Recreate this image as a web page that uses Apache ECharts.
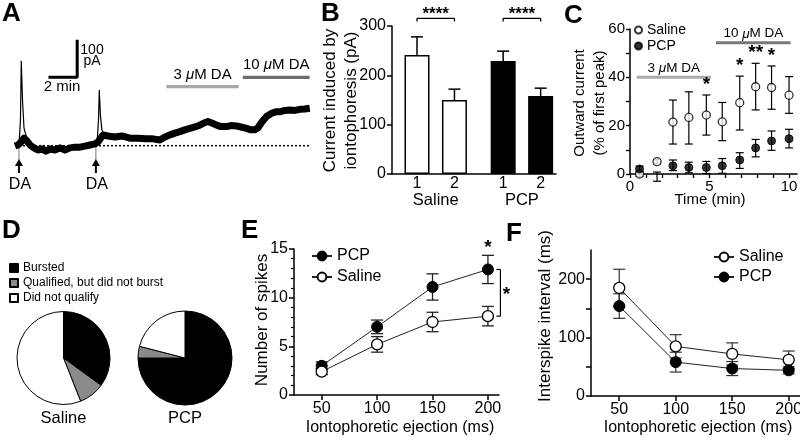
<!DOCTYPE html>
<html><head><meta charset="utf-8">
<script src="https://cdn.jsdelivr.net/npm/echarts@6/dist/echarts.min.js"></script>
<style>html,body{margin:0;padding:0;background:#fff}#c{width:800px;height:437px}</style>
</head><body><div id="c"></div>
<script>
// ---------- Panel A: example whole-cell trace ----------
const traceTime = [0,0.22,0.44,0.66,0.88,1.1,1.39,1.68,1.98,2.27,2.56,2.93,3.3,3.66,4.03,4.4,4.76,5.13,5.49,5.86,6.08,6.45,6.81,7.33,7.84,8.42,9.01,9.6,10.11,10.62,10.99,11.36,11.72,12.09,12.45,12.82,13.19,13.55,13.85,14.14,14.43,14.78,15.09,15.51,15.82,16.24,16.56,16.98,17.29,17.58,17.8,18.1,18.44,18.8,19.12,19.41,19.78,20.15,20.51,20.88,21.25,21.61];
const traceCurrent = [-1,2,10,21,13,2,-6,-12,-9,-15,-9,-12,-6,-12,-6,-4,-4,-1,2,5,10,30,27,24,27,21,21,19,19,16,24,30,35,39,44,48,52,57,63,67,63,57,53,53,56,55,52,48,44,44,49,66,81,90,94,94,98,99,98,101,102,104];
const spike1Time = [0.29,0.4,0.46,0.55,0.66,0.88];
const spike1Current = [-1,71,236,127,49,19];
const spike2Time = [6.0,6.12,6.18,6.26,6.37,6.52];
const spike2Current = [-1,71,155,85,44,30];
const daPuffTime = [0.29, 5.93];
const bath3uMTime = [11.1, 16.4];
const bath10uMTime = [16.7, 21.6];

// ---------- Panel B ----------
const bConditions = ['Saline', 'PCP'];
const bPuffLabels = ['1', '2', '1', '2'];
const bMeans = [241, 150, 229, 158];
const bSemTop = [278, 172, 249, 174];
const bSig = ['****', '****'];

// ---------- Panel C ----------
const cTime = [0.6,1.7,2.7,3.7,4.8,5.8,6.9,7.9,8.9,10.0];
const cSalineMean = [0,5.1,21.5,23.4,24.4,21.6,29.5,36.1,35.8,32.6];
const cSalineLow  = [-1,4.2,12.4,12.4,16.1,13.8,18.2,26.5,26.8,25.1];
const cSalineHigh = [1,6.0,30.6,34.0,32.7,29.6,40.5,45.8,44.7,40.3];
const cPcpMean = [2.1,-1.1,3.4,2.7,2.7,3.4,5.8,10.8,13.7,14.6];
const cPcpLow  = [1.0,-3.0,1.4,0.5,0.2,0.3,2.3,7.1,9.8,10.8];
const cPcpHigh = [3.2,0.8,5.8,4.9,5.2,6.4,8.8,14.3,17.8,18.5];
const cStars = ['','','','','*','','*','**','*',''];
const cBath3uM = [0.42, 5.08];
const cBath10uM = [5.41, 10.1];

// ---------- Panel D ----------
const pieCategories = ['Bursted', 'Qualified, but did not burst', 'Did not qualify'];
const pieSaline = [35, 9, 56];
const piePcp = [75, 4, 21];

// ---------- Panel E ----------
const eEjection = [50, 100, 150, 200];
const ePcpMean = [3.0, 7.0, 11.1, 12.9];
const ePcpSem = [0.4, 0.7, 1.35, 1.45];
const eSalineMean = [2.4, 5.2, 7.5, 8.1];
const eSalineSem = [0.3, 0.8, 1.0, 1.0];

// ---------- Panel F ----------
const fEjection = [50, 100, 150, 200];
const fSalineMean = [185, 85, 72, 62];
const fSalineSem = [32, 20, 19, 15];
const fPcpMean = [154, 58, 47, 44];
const fPcpSem = [21, 17, 12, 6];

// ---------- layout / style ----------
const FONT = '"Liberation Sans", Arial, Helvetica, sans-serif';
const bPos = [1, 2, 3.3, 4.3];
const AXL = {color: '#000', width: 1.5};
const pieColors = ['#000', '#8a8a8a', '#fff'];

function hiddenAxis(g, min, max) {
  return {gridIndex: g, type: 'value', min, max, show: false};
}
function numAxis(g, min, max, o) {
  return Object.assign({
    gridIndex: g, type: 'value', min, max,
    axisLine: {show: true, onZero: false, lineStyle: AXL},
    axisTick: {show: true, inside: false, length: 5, lineStyle: {color: '#000', width: 1.5}},
    axisLabel: {color: '#000', fontFamily: FONT, fontSize: 16, margin: 6},
    splitLine: {show: false}
  }, o || {});
}
function zip(xs, ys) { return xs.map((x, i) => [x, ys[i]]); }
function errSeries(g, xs, lows, highs, o) {
  return {
    type: 'custom', xAxisIndex: g, yAxisIndex: g, z: 2, silent: true,
    data: xs.map((x, i) => [x, lows[i], highs[i]]),
    encode: {x: 0, y: [1, 2]},
    renderItem: function (params, api) {
      const x = api.value(0), lo = api.value(1), hi = api.value(2);
      const a = api.coord([x, lo]), b = api.coord([x, hi]);
      const st = {stroke: o.color || '#000', lineWidth: o.lw || 1.2};
      const ch = [{type: 'line', shape: {x1: a[0], y1: a[1], x2: b[0], y2: b[1]}, style: st}];
      if (o.capTop !== false) ch.push({type: 'line', shape: {x1: b[0] - o.cap, y1: b[1], x2: b[0] + o.cap, y2: b[1]}, style: st});
      if (o.capBottom !== false) ch.push({type: 'line', shape: {x1: a[0] - o.cap, y1: a[1], x2: a[0] + o.cap, y2: a[1]}, style: st});
      return {type: 'group', children: ch};
    }
  };
}
const openSym = {color: '#fff', borderColor: '#000', borderWidth: 1.3};
const fillSym = {color: '#000', borderColor: '#000', borderWidth: 1};

const option = {
  animation: false,
  backgroundColor: '#fff',
  textStyle: {fontFamily: FONT, color: '#000'},
  grid: [
    {left: 15, top: 37.7, width: 296, height: 144, outerBoundsMode: 'none'},
    {left: 392, top: 26, width: 164, height: 148, outerBoundsMode: 'none'},
    {left: 630, top: 29, width: 167, height: 145, outerBoundsMode: 'none'},
    {left: 294, top: 249, width: 205, height: 146, outerBoundsMode: 'none'},
    {left: 591, top: 250, width: 209, height: 146, outerBoundsMode: 'none'}
  ],
  xAxis: [
    hiddenAxis(0, 0, 21.7),
    numAxis(1, 0.333, 4.71, {axisTick: {show: false}, axisLabel: {show: false}}),
    numAxis(2, 0, 10.5, {
      axisTick: {show: true, length: 4, lineStyle: {color: '#000', width: 1.3}, customValues: [0,1,2,3,4,5,6,7,8,9,10]},
      axisLabel: {color: '#000', fontFamily: FONT, fontSize: 15, margin: 5, customValues: [0, 5, 10]}
    }),
    numAxis(3, 25, 210, {
      axisTick: {show: true, length: 5, lineStyle: {color: '#000', width: 1.5}, customValues: eEjection},
      axisLabel: {color: '#000', fontFamily: FONT, fontSize: 16, margin: 6, customValues: eEjection}
    }),
    numAxis(4, 25, 210, {
      axisTick: {show: true, length: 5, lineStyle: {color: '#000', width: 1.5}, customValues: fEjection},
      axisLabel: {color: '#000', fontFamily: FONT, fontSize: 16, margin: 6, customValues: fEjection}
    })
  ],
  yAxis: [
    hiddenAxis(0, -100, 300),
    numAxis(1, 0, 300, {interval: 100}),
    numAxis(2, 0, 60, {interval: 20,
      axisTick: {show: true, length: 4, lineStyle: {color: '#000', width: 1.3}},
      minorTick: {show: true, splitNumber: 2, length: 4, lineStyle: {color: '#000', width: 1.3}},
      axisLabel: {color: '#000', fontFamily: FONT, fontSize: 15, margin: 5}}),
    numAxis(3, 0, 15, {interval: 5,
      minorTick: {show: true, splitNumber: 5, length: 3, lineStyle: {color: '#000', width: 1.2}}}),
    numAxis(4, 0, 250, {
      axisTick: {show: true, length: 5, lineStyle: {color: '#000', width: 1.5}, customValues: [0, 50, 100, 150, 200]},
      axisLabel: {color: '#000', fontFamily: FONT, fontSize: 16, margin: 6, customValues: [0, 100, 200]}
    })
  ],
  legend: [
    {data: pieCategories, left: 4, top: 257, orient: 'vertical', icon: 'rect', itemWidth: 8, itemHeight: 8, itemGap: 3,
      selectedMode: false, textStyle: {fontSize: 12, fontFamily: FONT, color: '#000'}},
    {data: ['Saline', 'PCP'], left: 629, top: 18, orient: 'vertical', itemWidth: 7, itemHeight: 7, itemGap: 2,
      selectedMode: false, textStyle: {fontSize: 14, fontFamily: FONT, color: '#000'}},
    {data: ['PCP ', 'Saline '], left: 306, top: 243, orient: 'vertical', itemWidth: 20, itemHeight: 11, itemGap: 5,
      selectedMode: false, formatter: n => n.trim(), textStyle: {fontSize: 16, fontFamily: FONT, color: '#000'}},
    {data: ['Saline  ', 'PCP  '], left: 708, top: 244, orient: 'vertical', itemWidth: 20, itemHeight: 11, itemGap: 4,
      selectedMode: false, formatter: n => n.trim(), textStyle: {fontSize: 16, fontFamily: FONT, color: '#000'}}
  ],
  series: [
    // ---- A ----
    {type: 'line', xAxisIndex: 0, yAxisIndex: 0, silent: true, symbol: 'none', z: 1,
      lineStyle: {color: '#000', width: 1.5, type: [2, 2]},
      data: [[traceTime[0], 0], [traceTime[traceTime.length - 1], 0]]},
    {type: 'line', xAxisIndex: 0, yAxisIndex: 0, silent: true, symbol: 'none', z: 3,
      lineStyle: {color: '#000', width: 7, join: 'round'}, data: zip(traceTime, traceCurrent)},
    {type: 'line', xAxisIndex: 0, yAxisIndex: 0, silent: true, symbol: 'none', z: 3,
      lineStyle: {color: '#000', width: 1.2}, data: zip(spike1Time, spike1Current)},
    {type: 'line', xAxisIndex: 0, yAxisIndex: 0, silent: true, symbol: 'none', z: 3,
      lineStyle: {color: '#000', width: 1.2}, data: zip(spike2Time, spike2Current)},
    {type: 'line', xAxisIndex: 0, yAxisIndex: 0, silent: true, symbol: 'none',
      lineStyle: {color: '#a8a8a8', width: 3.3}, data: [[bath3uMTime[0], 164], [bath3uMTime[1], 164]]},
    {type: 'line', xAxisIndex: 0, yAxisIndex: 0, silent: true, symbol: 'none',
      lineStyle: {color: '#6e6e6e', width: 3.3}, data: [[bath10uMTime[0], 190], [bath10uMTime[1], 190]]},
    {type: 'line', xAxisIndex: 0, yAxisIndex: 0, silent: true, symbol: 'none',
      lineStyle: {color: '#000', width: 3, cap: 'square'}, data: [[2.56, 190], [4.56, 190], [4.56, 290]]},
    // ---- B ----
    errSeries(1, bPos, bMeans, bSemTop, {cap: 6, capBottom: false, lw: 1.5}),
    {type: 'bar', xAxisIndex: 1, yAxisIndex: 1, barWidth: 25, silent: true, z: 3,
      data: bPos.map((p, i) => ({value: [p, bMeans[i]],
        itemStyle: {color: i < 2 ? '#fff' : '#000', borderColor: '#000', borderWidth: 1.5}}))},
    // ---- C ----
    {type: 'line', xAxisIndex: 2, yAxisIndex: 2, silent: true, symbol: 'none',
      lineStyle: {color: '#aaaaaa', width: 3}, data: [[cBath3uM[0], 40], [cBath3uM[1], 40]]},
    {type: 'line', xAxisIndex: 2, yAxisIndex: 2, silent: true, symbol: 'none',
      lineStyle: {color: '#777777', width: 3}, data: [[cBath10uM[0], 54.3], [cBath10uM[1], 54.3]]},
    errSeries(2, cTime, cSalineLow, cSalineHigh, {cap: 4, lw: 1.2}),
    errSeries(2, cTime, cPcpLow, cPcpHigh, {cap: 4, lw: 1.2}),
    {name: 'Saline', type: 'scatter', xAxisIndex: 2, yAxisIndex: 2, symbol: 'circle', symbolSize: 8, z: 5,
      itemStyle: openSym, data: zip(cTime, cSalineMean)},
    {name: 'PCP', type: 'scatter', xAxisIndex: 2, yAxisIndex: 2, symbol: 'circle', symbolSize: 8, z: 5,
      itemStyle: fillSym, data: zip(cTime, cPcpMean)},
    {type: 'custom', xAxisIndex: 2, yAxisIndex: 2, silent: true, z: 6,
      data: zip(cTime, cSalineHigh), encode: {x: 0, y: 1},
      renderItem: function (params, api) {
        const s = cStars[params.dataIndex];
        if (!s) return null;
        const p = api.coord([api.value(0), api.value(1)]);
        return {type: 'text', x: p[0], y: p[1] - 1, style: {text: s, fontSize: 19, fontFamily: FONT, fontWeight: 'bold', fill: '#000', align: 'center', verticalAlign: 'bottom'}};
      }},
    // ---- D ----
    {type: 'pie', name: 'pieSaline', center: [63.5, 358], radius: 46.5, startAngle: 90, clockwise: true, silent: true,
      label: {show: false}, labelLine: {show: false}, itemStyle: {borderColor: '#000', borderWidth: 1},
      data: pieCategories.map((n, i) => ({name: n, value: pieSaline[i], itemStyle: {color: pieColors[i]}}))},
    {type: 'pie', name: 'piePcp', center: [185, 358], radius: 47, startAngle: 90, clockwise: true, silent: true,
      label: {show: false}, labelLine: {show: false}, itemStyle: {borderColor: '#000', borderWidth: 1},
      data: pieCategories.map((n, i) => ({name: n, value: piePcp[i], itemStyle: {color: pieColors[i]}}))},
    // ---- E ----
    errSeries(3, eEjection, ePcpMean.map((m, i) => m - ePcpSem[i]), ePcpMean.map((m, i) => m + ePcpSem[i]), {cap: 6, lw: 1.3, color: '#222'}),
    errSeries(3, eEjection, eSalineMean.map((m, i) => m - eSalineSem[i]), eSalineMean.map((m, i) => m + eSalineSem[i]), {cap: 6, lw: 1.3, color: '#222'}),
    {name: 'PCP ', type: 'line', xAxisIndex: 3, yAxisIndex: 3, symbol: 'circle', symbolSize: 11, z: 5, silent: true,
      lineStyle: {color: '#222', width: 1}, itemStyle: fillSym, data: zip(eEjection, ePcpMean)},
    {name: 'Saline ', type: 'line', xAxisIndex: 3, yAxisIndex: 3, symbol: 'circle', symbolSize: 11, z: 5, silent: true,
      lineStyle: {color: '#222', width: 1}, itemStyle: openSym, data: zip(eEjection, eSalineMean)},
    // ---- F ----
    errSeries(4, fEjection, fPcpMean.map((m, i) => m - fPcpSem[i]), fPcpMean.map((m, i) => m + fPcpSem[i]), {cap: 6, lw: 1.2, color: '#333'}),
    errSeries(4, fEjection, fSalineMean.map((m, i) => m - fSalineSem[i]), fSalineMean.map((m, i) => m + fSalineSem[i]), {cap: 6, lw: 1.2, color: '#333'}),
    {name: 'Saline  ', type: 'line', xAxisIndex: 4, yAxisIndex: 4, symbol: 'circle', symbolSize: 11, z: 5, silent: true,
      lineStyle: {color: '#222', width: 1}, itemStyle: openSym, data: zip(fEjection, fSalineMean)},
    {name: 'PCP  ', type: 'line', xAxisIndex: 4, yAxisIndex: 4, symbol: 'circle', symbolSize: 11, z: 5, silent: true,
      lineStyle: {color: '#222', width: 1}, itemStyle: fillSym, data: zip(fEjection, fPcpMean)}
  ]
};

const chart = echarts.init(document.getElementById('c'), null, {renderer: 'canvas'});
chart.setOption(option);

function T(x, y, text, size, o) {
  return {type: 'text', x, y, silent: true, rotation: (o && o.rot) || 0,
    style: Object.assign({text, fontSize: size, fontFamily: FONT, fill: '#000', align: 'center', verticalAlign: 'middle'}, (o && o.style) || {})};
}
function L(x1, y1, x2, y2, w, c) {
  return {type: 'line', silent: true, shape: {x1, y1, x2, y2}, style: {stroke: c || '#000', lineWidth: w || 1.2}};
}
const px = (g, p) => chart.convertToPixel({gridIndex: g}, p);
const g = [];
// panel letters
[['A', 2, 1], ['B', 321, 1], ['C', 564, 3], ['D', 2, 218], ['E', 241, 218], ['F', 506, 221]].forEach(([t, x, y]) =>
  g.push(T(x, y, t, 26, {style: {fontWeight: 'bold', align: 'left', verticalAlign: 'top'}})));
// A annotations
daPuffTime.forEach(t => {
  const p = px(0, [t, 0]);
  g.push(L(p[0], p[1], p[0], 160, 1, '#777'));
  g.push({type: 'polygon', silent: true, shape: {points: [[p[0], 159], [p[0] - 4, 166], [p[0] + 4, 166]]}, style: {fill: '#000'}});
  g.push(L(p[0], 165, p[0], 173, 2));
  g.push(T(p[0] + 1, 185, 'DA', 16));
});
g.push(T(92, 50, '100', 14));
g.push(T(92, 61, 'pA', 14));
g.push(T(62, 87, '2 min', 15));
{
  const a = px(0, [(bath3uMTime[0] + bath3uMTime[1]) / 2, 164]);
  g.push(T(a[0], a[1] - 12, '3 {i|μ}M DA', 15, {style: {rich: {i: {fontStyle: 'italic', fontSize: 15, fontFamily: FONT}}}}));
  const b = px(0, [(bath10uMTime[0] + bath10uMTime[1]) / 2, 190]);
  g.push(T(b[0], b[1] - 12, '10 {i|μ}M DA', 15, {style: {rich: {i: {fontStyle: 'italic', fontSize: 15, fontFamily: FONT}}}}));
}
// B annotations
g.push(T(341, 100.5, 'Current induced by\niontophoresis (pA)', 17, {rot: Math.PI / 2, style: {lineHeight: 21}}));
bPos.forEach((p, i) => { const q = px(1, [p, 0]); g.push(T(q[0], q[1] + 10, bPuffLabels[i], 16)); });
bConditions.forEach((c, k) => {
  const a = px(1, [bPos[2 * k], 0]), b = px(1, [bPos[2 * k + 1], 0]);
  g.push(T((a[0] + b[0]) / 2, a[1] + 26, c, 16.5));
  g.push(L(a[0], 21.5, a[0], 18.3, 1.3)); g.push(L(a[0], 18.3, b[0], 18.3, 1.3)); g.push(L(b[0], 18.3, b[0], 21.5, 1.3));
  g.push(T((a[0] + b[0]) / 2, 14, bSig[k], 17, {style: {fontWeight: 'bold'}}));
});
// C annotations
g.push(T(590, 103, 'Outward current\n(% of first peak)', 15, {rot: Math.PI / 2, style: {lineHeight: 20}}));
g.push(T(710, 200, 'Time (min)', 15));
{
  const a = px(2, [(cBath3uM[0] + cBath3uM[1]) / 2, 40]);
  g.push(T(a[0], a[1] - 9, '3 {i|μ}M DA', 13.5, {style: {rich: {i: {fontStyle: 'italic', fontSize: 13.5, fontFamily: FONT}}}}));
  const b = px(2, [(cBath10uM[0] + cBath10uM[1]) / 2, 54.3]);
  g.push(T(b[0], b[1] - 9, '10 {i|μ}M DA', 13.5, {style: {rich: {i: {fontStyle: 'italic', fontSize: 13.5, fontFamily: FONT}}}}));
}
// D annotations
g.push(T(63.5, 418, 'Saline', 16.5));
g.push(T(185, 418, 'PCP', 16.5));
// E annotations
g.push(T(262, 320, 'Number of spikes', 17, {rot: Math.PI / 2}));
g.push(T(400, 428, 'Iontophoretic ejection (ms)', 16));
{
  const last = eEjection.length - 1;
  const top = px(3, [eEjection[last], ePcpMean[last] + ePcpSem[last]]);
  g.push(T(top[0], top[1] - 8, '*', 19, {style: {fontWeight: 'bold'}}));
  const a = px(3, [eEjection[last], ePcpMean[last]]), b = px(3, [eEjection[last], eSalineMean[last]]);
  const bx = a[0] + 12.5;
  g.push(L(bx - 4, a[1], bx, a[1], 1.2)); g.push(L(bx, a[1], bx, b[1], 1.2)); g.push(L(bx - 4, b[1], bx, b[1], 1.2));
  g.push(T(bx + 6, (a[1] + b[1]) / 2 + 2, '*', 19, {style: {fontWeight: 'bold'}}));
}
// F annotations
g.push(T(545, 316, 'Interspike interval (ms)', 17, {rot: Math.PI / 2}));
g.push(T(698, 428, 'Iontophoretic ejection (ms)', 16));

chart.setOption({graphic: {elements: g}});
</script>
</body></html>
